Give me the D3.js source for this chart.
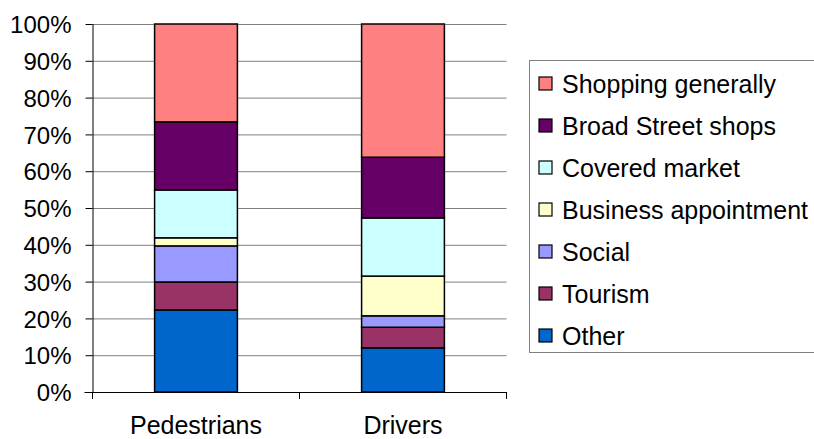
<!DOCTYPE html>
<html>
<head>
<meta charset="utf-8">
<script src="https://cdn.jsdelivr.net/npm/d3@7/dist/d3.min.js"></script>
<style>
  html, body { margin: 0; padding: 0; background: #fff; }
  svg { display: block; }
  text { font-family: "Liberation Sans", Arial, sans-serif; fill: #000; }
</style>
</head>
<body>
<script>
// Trip purposes, listed bottom of the stack first
const purposes = ["Other", "Tourism", "Social", "Business appointment",
                  "Covered market", "Broad Street shops", "Shopping generally"];
const categories = ["Pedestrians", "Drivers"];
// Share of respondents (%) per purpose, same order as purposes
const pedestrians = [22.3, 7.6, 9.8, 2.2, 13.0, 18.5, 26.6];
const drivers     = [12.0, 5.6, 3.1, 10.8, 15.8, 16.5, 36.2];
const colors = ["#0066CC", "#993366", "#9999FF", "#FFFFCC",
                "#CCFFFF", "#660066", "#FF8080"];
const yTicks = [0, 10, 20, 30, 40, 50, 60, 70, 80, 90, 100];

const W = 814, H = 439;
const plot = { left: 92.5, right: 506.5, top: 24, bottom: 392 };

const rows = categories.map((c, i) => {
  const src = i === 0 ? pedestrians : drivers;
  const r = { category: c };
  purposes.forEach((p, j) => { r[p] = src[j]; });
  return r;
});

const stack = d3.stack().keys(purposes)(rows);

const x = d3.scaleBand().domain(categories).range([plot.left, plot.right]).padding(0);
const y = d3.scaleLinear().domain([0, 100]).range([plot.bottom, plot.top]);
const color = d3.scaleOrdinal().domain(purposes).range(colors);
const barW = x.bandwidth() * 0.4;

const svg = d3.select("body").append("svg").attr("width", W).attr("height", H);

// horizontal gridlines
svg.append("g")
  .selectAll("line").data(yTicks).join("line")
  .attr("x1", plot.left).attr("x2", plot.right)
  .attr("y1", d => y(d) + 0.5).attr("y2", d => y(d) + 0.5)
  .attr("stroke", "#808080").attr("stroke-width", 1);

// stacked bars
svg.append("g")
  .selectAll("g").data(stack).join("g")
  .attr("fill", d => color(d.key))
  .selectAll("rect").data(d => d).join("rect")
  .attr("x", d => x(d.data.category) + (x.bandwidth() - barW) / 2)
  .attr("y", d => y(d[1]))
  .attr("width", barW)
  .attr("height", d => y(d[0]) - y(d[1]))
  .attr("stroke", "#000").attr("stroke-width", 1.5);

// y axis
const yAxis = d3.axisLeft(y).tickValues(yTicks).tickFormat(d => d + "%")
  .tickSize(7).tickPadding(14);
const gy = svg.append("g").attr("transform", `translate(${plot.left},0)`).call(yAxis);
gy.select(".domain").attr("stroke", "#000").attr("d", `M0.5,${plot.top}V${plot.bottom}`);
gy.selectAll(".tick line").attr("stroke", "#000");
gy.selectAll(".tick text").attr("font-size", 24).attr("dy", "0.36em")
  .style("font-family", "'Liberation Sans', Arial, sans-serif");

// x axis: boundaries between categories carry the ticks
const gx = svg.append("g").attr("transform", `translate(0,${plot.bottom})`);
gx.append("line").attr("x1", plot.left - 8).attr("x2", plot.right)
  .attr("y1", 0.5).attr("y2", 0.5).attr("stroke", "#000");
const bounds = [plot.left, ...categories.slice(1).map(c => x(c)), plot.right];
gx.selectAll("line.tick").data(bounds).join("line").attr("class", "tick")
  .attr("x1", d => d).attr("x2", d => d).attr("y1", 0).attr("y2", 7)
  .attr("stroke", "#000");
gx.selectAll("text").data(categories).join("text")
  .attr("x", d => x(d) + x.bandwidth() / 2)
  .attr("y", 42)
  .attr("text-anchor", "middle")
  .attr("font-size", 25)
  .text(d => d);

// legend, top entry is the top of the stack
const legendItems = purposes.slice().reverse();
const lg = svg.append("g");
lg.append("rect").attr("x", 529.5).attr("y", 60.5).attr("width", 320).attr("height", 292)
  .attr("fill", "#fff").attr("stroke", "#808080").attr("stroke-width", 1);
const item = lg.selectAll("g.item").data(legendItems).join("g").attr("class", "item")
  .attr("transform", (d, i) => `translate(0,${83.5 + i * 42})`);
item.append("rect").attr("x", 539).attr("y", -6.5).attr("width", 13).attr("height", 13)
  .attr("fill", d => color(d)).attr("stroke", "#000").attr("stroke-width", 1.2);
item.append("text").attr("x", 562).attr("y", 0).attr("dy", "0.36em")
  .attr("font-size", 25).text(d => d);
</script>
</body>
</html>
